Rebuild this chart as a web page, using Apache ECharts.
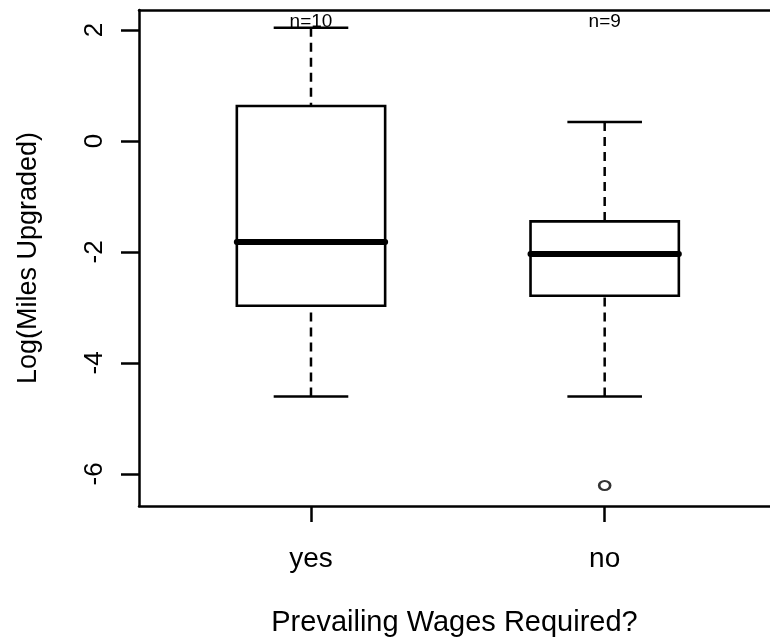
<!DOCTYPE html>
<html>
<head>
<meta charset="utf-8">
<title>Log(Miles Upgraded) by Prevailing Wages</title>
<script src="https://cdn.jsdelivr.net/npm/echarts@6/dist/echarts.min.js"></script>
<style>
  html, body { margin: 0; padding: 0; background: #fff; }
  #chart { width: 770px; height: 640px; }
</style>
</head>
<body>
<div id="chart"></div>
<script>
// groups along the x axis
var categories = ['yes', 'no'];
var nLabels = ['n=10', 'n=9'];

// five-number summaries (log scale)
var lowerWhisker = [-4.605, -4.605];
var lowerQuartile = [-2.97, -2.79];
var medians = [-1.82, -2.04];
var upperQuartile = [0.63, -1.45];
var upperWhisker = [2.04, 0.34];

// outliers: [group position, value]
var outliers = [[2, -6.21]];

var yTicks = [-6, -4, -2, 0, 2];
var xTicks = [1, 2];

var FONT = "'Liberation Sans', Arial, Helvetica, sans-serif";
var HALF_BOX = 0.2525, HALF_CAP = 0.127;

var boxData = categories.map(function (c, i) {
  return [i + 1, lowerWhisker[i], lowerQuartile[i], medians[i], upperQuartile[i], upperWhisker[i]];
});

function seg(a, b, style) {
  return { type: 'line', shape: { x1: a[0], y1: a[1], x2: b[0], y2: b[1] }, style: style };
}

// dashed whiskers
function renderWhiskers(params, api) {
  var x = api.value(0);
  var dashed = { stroke: '#000', lineWidth: 2.5, lineDash: [9, 6], fill: null };
  return {
    type: 'group',
    children: [
      seg(api.coord([x, api.value(5)]), api.coord([x, api.value(4)]), dashed),
      seg(api.coord([x, api.value(1)]), api.coord([x, api.value(2)]), dashed)
    ]
  };
}

// box, median and whisker caps
function renderBox(params, api) {
  var x = api.value(0);
  var solid = { stroke: '#000', lineWidth: 2.6, fill: null };
  var tl = api.coord([x - HALF_BOX, api.value(4)]);
  var br = api.coord([x + HALF_BOX, api.value(2)]);
  return {
    type: 'group',
    children: [
      seg(api.coord([x - HALF_CAP, api.value(5)]), api.coord([x + HALF_CAP, api.value(5)]), solid),
      seg(api.coord([x - HALF_CAP, api.value(1)]), api.coord([x + HALF_CAP, api.value(1)]), solid),
      { type: 'rect', shape: { x: tl[0], y: tl[1], width: br[0] - tl[0], height: br[1] - tl[1] },
        style: { fill: null, stroke: '#000', lineWidth: 2.6 } },
      seg(api.coord([x - HALF_BOX, api.value(3)]), api.coord([x + HALF_BOX, api.value(3)]),
        { stroke: '#000', lineWidth: 6, lineCap: 'round', fill: null })
    ]
  };
}

// group sizes written along the top
function renderCounts(params, api) {
  var p = api.coord([api.value(0), api.value(1)]);
  return {
    type: 'text',
    x: p[0],
    y: params.coordSys.y + 12,
    style: { text: nLabels[params.dataIndex], fill: '#000', font: '19px ' + FONT, align: 'center', verticalAlign: 'middle' }
  };
}

var axisStroke = { color: '#000', width: 2.5 };

var chart = echarts.init(document.getElementById('chart'), null, { renderer: 'canvas' });
chart.setOption({
  animation: false,
  backgroundColor: '#fff',
  grid: { left: 139, top: 10, right: 0, bottom: 134, outerBoundsMode: 'none', containLabel: false },
  xAxis: [
    {
      type: 'value',
      position: 'bottom',
      min: 0.4144, max: 2.5629,
      splitLine: { show: false },
      axisLine: { show: true, onZero: false, lineStyle: axisStroke },
      axisTick: { show: true, customValues: xTicks, length: 16, lineStyle: axisStroke },
      axisLabel: {
        customValues: xTicks, margin: 39, color: '#000', fontSize: 28, fontFamily: FONT,
        formatter: function (v) { return categories[Math.round(v) - 1]; }
      },
      name: 'Prevailing Wages Required?',
      nameLocation: 'middle', nameGap: 102,
      nameTextStyle: { color: '#000', fontSize: 29, fontFamily: FONT }
    },
    {
      // top edge of the frame
      type: 'value',
      position: 'top',
      min: 0.4144, max: 2.5629,
      splitLine: { show: false },
      axisLine: { show: true, onZero: false, lineStyle: axisStroke },
      axisTick: { show: false },
      axisLabel: { show: false }
    }
  ],
  yAxis: {
    type: 'value',
    min: -6.58, max: 2.36,
    splitLine: { show: false },
    axisLine: { show: true, onZero: false, lineStyle: axisStroke },
    axisTick: { show: true, customValues: yTicks, length: 18, lineStyle: axisStroke },
    axisLabel: { customValues: yTicks, rotate: 90, margin: 31, color: '#000', fontSize: 26, fontFamily: FONT },
    name: 'Log(Miles Upgraded)',
    nameLocation: 'middle', nameGap: 97,
    nameTextStyle: { color: '#000', fontSize: 27, fontFamily: FONT }
  },
  series: [
    { type: 'custom', renderItem: renderWhiskers, encode: { x: 0, y: [1, 2, 3, 4, 5] }, data: boxData, z: 3 },
    { type: 'custom', renderItem: renderBox, encode: { x: 0, y: [1, 2, 3, 4, 5] }, data: boxData, z: 4 },
    { type: 'custom', renderItem: renderCounts, encode: { x: 0, y: 1 }, data: boxData, z: 5 },
    {
      type: 'scatter',
      symbol: 'circle',
      symbolSize: [11, 9],
      itemStyle: { color: 'transparent', borderColor: '#000', borderWidth: 2.4 },
      data: outliers,
      z: 5
    }
  ]
});
</script>
</body>
</html>
